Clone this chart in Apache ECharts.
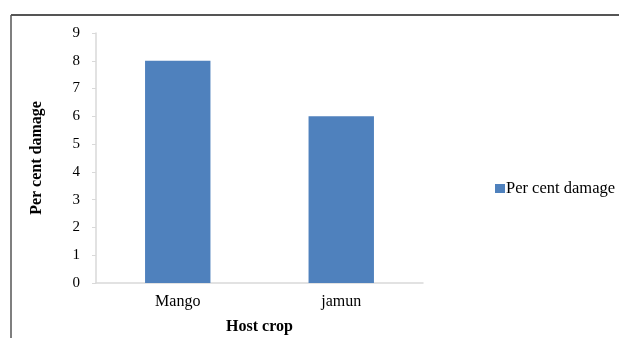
<!DOCTYPE html>
<html><head><meta charset="utf-8">
<script src="https://cdn.jsdelivr.net/npm/echarts@6/dist/echarts.min.js"></script>
<style>html,body{margin:0;padding:0;background:#fff}#c{width:619px;height:338px}</style>
</head><body><div id="c"></div>
<script>
const categories = ['Mango', 'jamun'];
const values = [8, 6];
const seriesName = 'Per cent damage';
const xName = 'Host crop';
const yName = 'Per cent damage';

const chart = echarts.init(document.getElementById('c'));
const font = '"Liberation Serif", "Times New Roman", serif';
chart.setOption({
  animation: false,
  backgroundColor: '#fff',
  textStyle: { fontFamily: font },
  grid: { left: 96, top: 33, width: 327, height: 250, containLabel: false, outerBoundsMode: 'none' },
  legend: {
    data: [seriesName], left: 490, top: 175, itemWidth: 10, itemHeight: 9, itemGap: 4,
    icon: 'rect', textStyle: { fontFamily: font, fontSize: 16.5, color: '#000', padding: [0,0,0,-4] }
  },
  xAxis: {
    type: 'category', data: categories,
    name: xName, nameLocation: 'middle', nameGap: 36,
    nameTextStyle: { fontFamily: font, fontSize: 16, fontWeight: 'bold', color: '#000' },
    axisLine: { lineStyle: { color: '#d9d9d9', width: 1.5 } },
    axisTick: { show: false },
    axisLabel: { fontFamily: font, fontSize: 16, color: '#000', margin: 11 }
  },
  yAxis: {
    type: 'value', min: 0, max: 9, interval: 1,
    name: yName, nameLocation: 'middle', nameGap: 51, nameRotate: 90,
    nameTextStyle: { fontFamily: font, fontSize: 16, fontWeight: 'bold', color: '#000' },
    axisLine: { show: true, lineStyle: { color: '#d9d9d9', width: 1.5 } },
    axisTick: { show: true, length: 4, lineStyle: { color: '#d9d9d9' } },
    splitLine: { show: false },
    axisLabel: { fontFamily: font, fontSize: 15, color: '#000', margin: 16 }
  },
  series: [{
    name: seriesName, type: 'bar', data: values, barWidth: '40%',
    itemStyle: { color: '#4f81bd' }
  }],
  graphic: [
    { type: 'line', shape: { x1: 11, y1: 15, x2: 619, y2: 15 }, style: { stroke: '#555', lineWidth: 2 } },
    { type: 'line', shape: { x1: 11, y1: 15, x2: 11, y2: 338 }, style: { stroke: '#555', lineWidth: 1.5 } }
  ]
});
</script></body></html>
